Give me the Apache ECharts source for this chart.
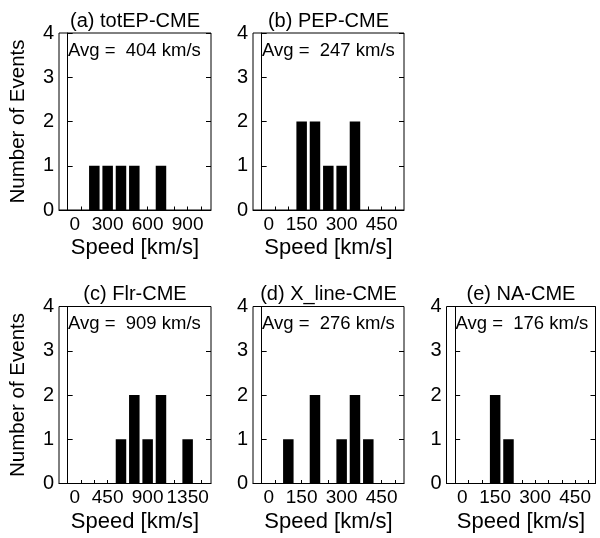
<!DOCTYPE html>
<html>
<head>
<meta charset="utf-8">
<script src="https://cdn.jsdelivr.net/npm/echarts@6/dist/echarts.min.js"></script>
<style>
  html, body { margin: 0; background: #fff; }
  #chart { width: 600px; height: 538px; }
</style>
</head>
<body>
<div id="chart"></div>
<script>
// panel texts
const panelTitles = ['(a) totEP-CME', '(b) PEP-CME', '(c) Flr-CME', '(d) X_line-CME', '(e) NA-CME'];
const avgSpeeds = [404, 247, 909, 276, 176];
const binWidths = [100, 50, 150, 50, 50];

// histogram bins (bin centre speed in km/s) and event counts
const speedsA = [200, 300, 400, 500, 700];
const countsA = [1, 1, 1, 1, 1];
const speedsB = [150, 200, 250, 300, 350];
const countsB = [2, 2, 1, 1, 2];
const speedsC = [600, 750, 900, 1050, 1350];
const countsC = [1, 2, 1, 2, 1];
const speedsD = [100, 200, 300, 350, 400];
const countsD = [1, 2, 1, 2, 1];
const speedsE = [150, 200];
const countsE = [2, 1];

// x tick labels
const tickLabelsA = [0, 300, 600, 900];
const tickLabelsB = [0, 150, 300, 450];
const tickLabelsC = [0, 450, 900, 1350];
const tickLabelsD = [0, 150, 300, 450];
const tickLabelsE = [0, 150, 300, 450];

const yTicks = [0, 1, 2, 3, 4];

const FONT = '"Liberation Sans", Arial, Helvetica, sans-serif';
const PX_PER_BIN = 13.33;
const BIN_COUNT = 11;

const panels = [
  { speeds: speedsA, counts: countsA, ticks: tickLabelsA, box: [59, 33, 152, 177], yName: true },
  { speeds: speedsB, counts: countsB, ticks: tickLabelsB, box: [253, 33, 151, 177], yName: false },
  { speeds: speedsC, counts: countsC, ticks: tickLabelsC, box: [59, 306.5, 152, 177], yName: true },
  { speeds: speedsD, counts: countsD, ticks: tickLabelsD, box: [253, 306.5, 151, 177], yName: false },
  { speeds: speedsE, counts: countsE, ticks: tickLabelsE, box: [446.5, 306.5, 149, 177], yName: false }
];

const option = {
  animation: false,
  backgroundColor: '#fff',
  textStyle: { fontFamily: FONT, color: '#000' },
  title: [],
  grid: [],
  xAxis: [],
  yAxis: [],
  series: []
};

panels.forEach((p, i) => {
  const [left, top, width, height] = p.box;
  const bw = binWidths[i];
  const binTicks = [];
  for (let k = 0; k < BIN_COUNT; k++) {
    binTicks.push(k * bw);
  }

  option.grid.push({
    left, top, width, height,
    show: true,
    borderColor: '#000',
    borderWidth: 1,
    backgroundColor: '#fff',
    containLabel: false,
    outerBoundsMode: 'none'
  });

  option.title.push({
    text: panelTitles[i],
    left: left + width / 2,
    top: top - 22,
    textAlign: 'center',
    padding: 0,
    textStyle: { fontFamily: FONT, fontSize: 20, fontWeight: 'normal', color: '#000' }
  });
  option.title.push({
    text: `Avg =  ${avgSpeeds[i]} km/s`,
    left: left + 9,
    top: top + 8,
    padding: 0,
    textStyle: { fontFamily: FONT, fontSize: 18.5, fontWeight: 'normal', color: '#000' }
  });

  option.xAxis.push({
    gridIndex: i,
    type: 'value',
    min: -0.65 * bw,
    max: (width / PX_PER_BIN - 0.65) * bw,
    axisLine: { show: true, lineStyle: { color: '#000', width: 1 } },
    axisTick: { show: true, inside: true, length: 3.5, customValues: binTicks, lineStyle: { color: '#000' } },
    axisLabel: {
      customValues: p.ticks,
      hideOverlap: false,
      color: '#000',
      fontFamily: FONT,
      fontSize: 19,
      margin: 5,
      // the zero label sits a little right of its tick in the original
      formatter: (v) => (v === 0 ? '{z|0}' : String(v)),
      rich: { z: { fontFamily: FONT, fontSize: 19, color: '#000', padding: [0, 0, 0, 14] } }
    },
    splitLine: { show: false },
    name: 'Speed [km/s]',
    nameLocation: 'middle',
    nameGap: 27,
    nameTextStyle: { fontFamily: FONT, fontSize: 22, color: '#000' }
  });

  option.yAxis.push({
    gridIndex: i,
    type: 'value',
    position: 'left',
    min: 0,
    max: 4,
    interval: 1,
    axisLine: { show: true, lineStyle: { color: '#000', width: 1 } },
    axisTick: { show: true, inside: true, length: 5, lineStyle: { color: '#000' } },
    axisLabel: {
      customValues: yTicks,
      color: '#000',
      fontFamily: FONT,
      fontSize: 20,
      margin: 5
    },
    splitLine: { show: false },
    name: p.yName ? 'Number of Events' : '',
    nameLocation: 'middle',
    nameGap: 30,
    nameTextStyle: { fontFamily: FONT, fontSize: 20.5, color: '#000' }
  });
  option.yAxis.push({
    gridIndex: i,
    type: 'value',
    position: 'right',
    min: 0,
    max: 4,
    interval: 1,
    axisLine: { show: false },
    axisTick: { show: true, inside: true, length: 5, lineStyle: { color: '#000' } },
    axisLabel: { show: false },
    splitLine: { show: false }
  });

  option.series.push({
    type: 'bar',
    xAxisIndex: i,
    yAxisIndex: 2 * i,
    barWidth: 10.5,
    itemStyle: { color: '#000' },
    data: p.speeds.map((s, j) => [s, p.counts[j]])
  });
});

const chart = echarts.init(document.getElementById('chart'), null, { renderer: 'canvas' });
chart.setOption(option);
</script>
</body>
</html>
